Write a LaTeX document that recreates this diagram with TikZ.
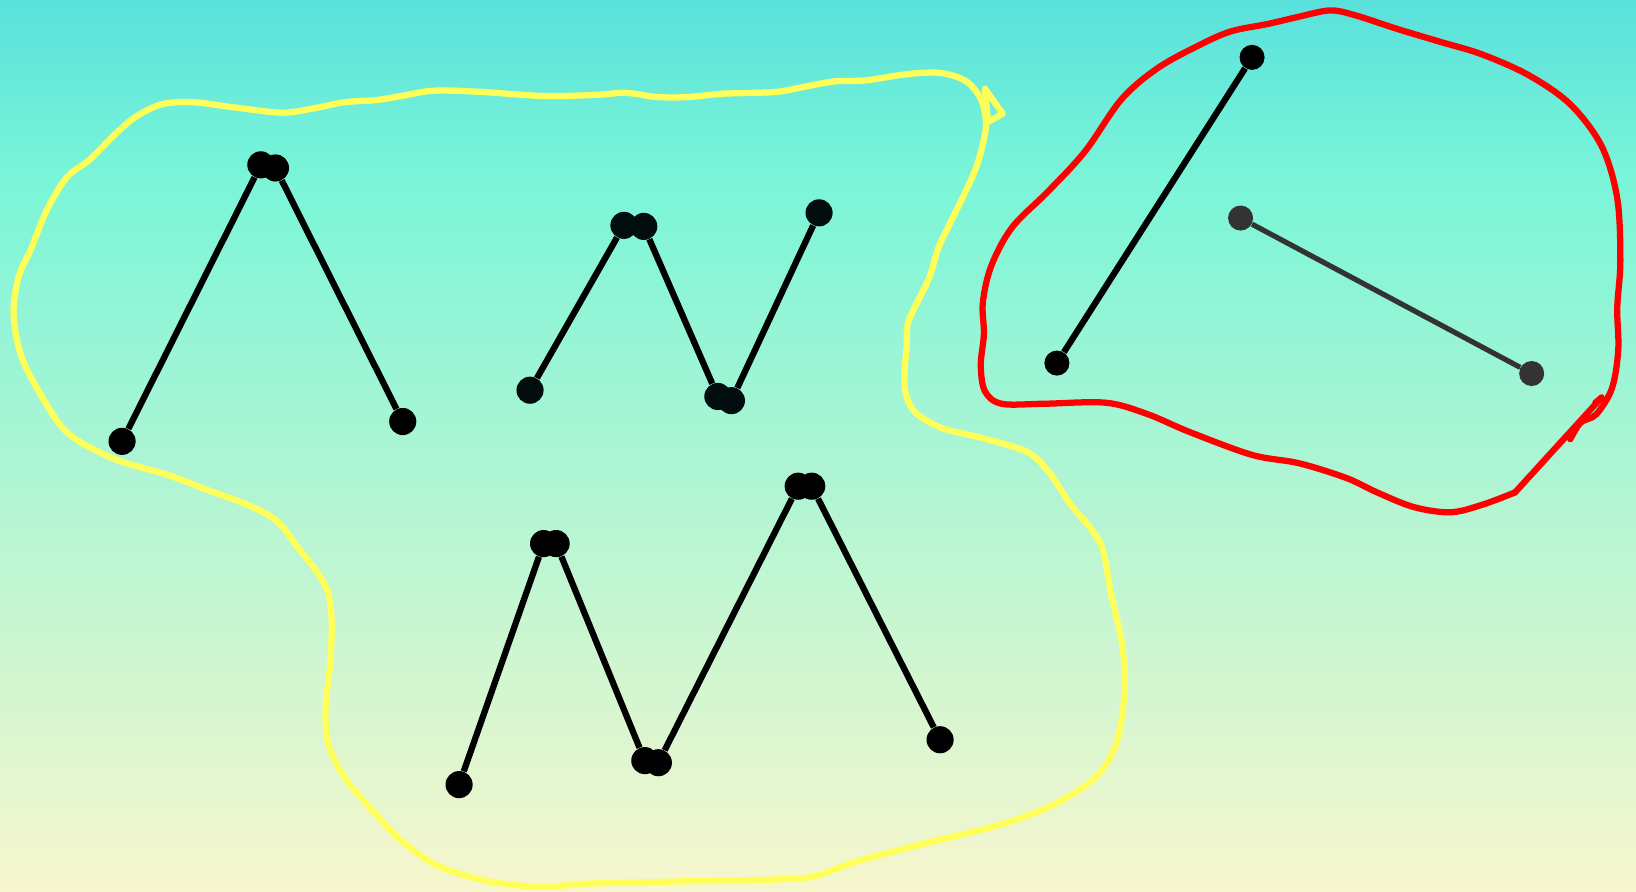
\documentclass[tikz,border=0pt]{standalone}
\definecolor{bgtop}{RGB}{90,225,220}
\definecolor{bgmid}{RGB}{122,245,216}
\definecolor{bgbot}{RGB}{247,246,205}
\definecolor{lasso}{RGB}{255,255,90}
\definecolor{dotdark}{RGB}{2,14,14}
\definecolor{greyline}{RGB}{51,51,51}
\begin{document}
\begin{tikzpicture}[x=0.5pt,y=-0.5pt,
  dot/.style={circle,fill=black,inner sep=0pt,minimum size=13pt},
  ddot/.style={dot,fill=dotdark},
  gdot/.style={dot,fill=greyline},
  edge/.style={line width=3pt,black},
  gedge/.style={line width=2.5pt,greyline},
  yellowlasso/.style={line width=3pt,lasso,line join=round,line cap=round},
  redlasso/.style={line width=3pt,red,line join=round,line cap=round}]
% background
\useasboundingbox (0,0) rectangle (1568,854);
\shade[top color=bgtop,bottom color=bgmid] (0,0) rectangle (1568,172);
\shade[top color=bgmid,bottom color=bgbot] (0,170) rectangle (1568,854);

% yellow lasso
\draw[yellowlasso] plot[smooth cycle,tension=0.55] coordinates {
 (945,118) (941,142) (933,167) (915,205) (900,236) (891,265) (879,290) (870,310)
 (869,332) (867,356) (868,377) (877,395) (902,410) (942,420) (984,433) (1005,452)
 (1025,482) (1045,506) (1057,527) (1065,570) (1075,615) (1078,660) (1070,712)
 (1050,745) (1010,771) (960,790) (880,810) (820,826) (780,840) (740,843) (640,845)
 (560,847) (520,850) (470,845) (420,830) (385,806) (360,780) (331,746) (315,714)
 (312,680) (316,640) (318,600) (315,570) (305,550) (285,524) (266,500) (240,485)
 (200,470) (160,455) (110,440) (66,416) (40,380) (20,340) (13,300) (18,265) (30,238)
 (45,201) (64,170) (86,153) (110,129) (130,112) (155,100) (185,98) (225,103)
 (270,108) (300,104) (330,98) (360,96) (385,92) (415,87) (460,88) (520,92) (570,91)
 (600,89) (630,93) (660,93) (690,90) (720,89) (745,88) (772,83) (800,78) (830,77)
 (870,71) (902,70) (926,78) (940,95)};
\draw[yellowlasso] (944,85) -- (961,109) -- (947,117) -- cycle;

% red lasso
\draw[redlasso] (1535,381) -- (1452,472);
\draw[redlasso] (1535,381) -- (1529,386);
\draw[redlasso] plot[smooth,tension=0.55] coordinates {
 (1452,472) (1420,484) (1390,491) (1355,486) (1320,472) (1290,458) (1245,444)
 (1200,436) (1140,414) (1100,397) (1060,386) (1000,387) (960,387) (944,375)
 (940,350) (943,320) (942,290) (950,255) (970,218) (1005,183) (1040,145) (1075,95)
 (1110,65) (1150,43) (1180,30) (1215,23) (1245,16) (1275,10) (1300,15) (1340,28)
 (1380,40) (1420,52) (1465,72) (1505,100) (1535,140) (1550,190) (1553,250)
 (1550,295) (1551,335) (1545,372) (1530,397) (1515,405) (1505,421)};

% group 1
\node[dot] (a1) at (117,423) {};
\node[dot] (a2) at (250,158) {};
\node[dot] (a3) at (264,161) {};
\node[dot] (a4) at (386,404) {};
\draw[edge] (a1) -- (a2);
\draw[edge] (a3) -- (a4);

% group 2
\node[ddot] (b1) at (508,374) {};
\node[ddot] (b2) at (598,216) {};
\node[ddot] (b3) at (617,217) {};
\node[ddot] (b4) at (688,380) {};
\node[ddot] (b5) at (701,384) {};
\node[ddot] (b6) at (785,204) {};
\draw[edge] (b1) -- (b2);
\draw[edge] (b3) -- (b4);
\draw[edge] (b5) -- (b6);

% group 3
\node[dot] (c1) at (440,752) {};
\node[dot] (c2) at (521,521) {};
\node[dot] (c3) at (533,521) {};
\node[dot] (c4) at (618,729) {};
\node[dot] (c5) at (631,731) {};
\node[dot] (c6) at (765,466) {};
\node[dot] (c7) at (778,466) {};
\node[dot] (c8) at (901,709) {};
\draw[edge] (c1) -- (c2);
\draw[edge] (c3) -- (c4);
\draw[edge] (c5) -- (c6);
\draw[edge] (c7) -- (c8);

% red group
\node[dot,minimum size=12pt] (d1) at (1200,55) {};
\node[dot,minimum size=12pt] (d2) at (1013,348) {};
\draw[edge] (d1) -- (d2);
\node[gdot,minimum size=12pt] (e1) at (1189,209) {};
\node[gdot,minimum size=12pt] (e2) at (1468,358) {};
\draw[gedge] (e1) -- (e2);
\end{tikzpicture}
\end{document}
